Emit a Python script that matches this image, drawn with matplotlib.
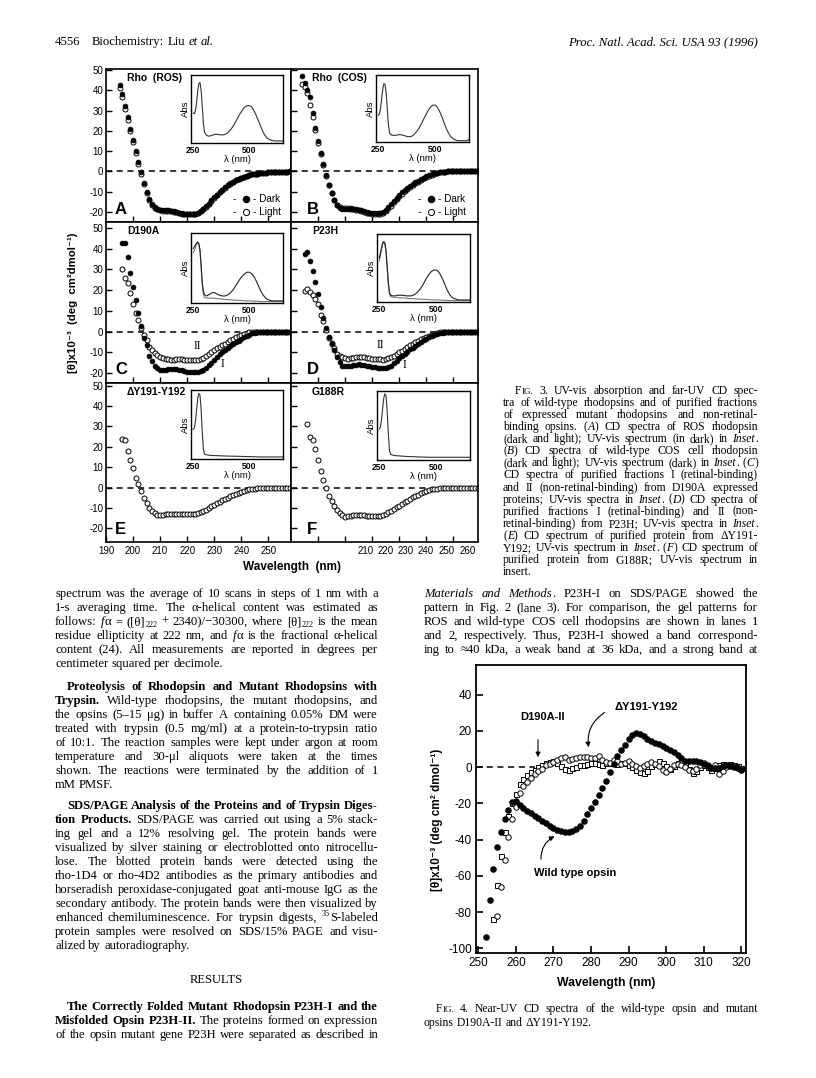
import re
import numpy as np
import matplotlib
matplotlib.use('Agg')
import matplotlib.pyplot as plt
from matplotlib.font_manager import FontProperties

W, H = 816, 1078
SANS = ['Liberation Sans', 'DejaVu Sans']
SERIF = ['Liberation Serif', 'DejaVu Serif']
plt.rcParams['font.family'] = SANS
plt.rcParams['axes.unicode_minus'] = False

# ---------------- Fig. 3 data (far-UV CD, [theta] x 1e-3) ----------------
A_WL = np.arange(195, 259)
A_DARK = [42.5, 38, 32.5, 27, 21, 15.5, 10, 4.5, -0.5, -5.5, -10, -13.5, -16, -17.5, -18.5, -19,
          -19, -19, -19, -19.3, -19.6, -20, -20.3, -20.6, -20.8, -21, -21, -21, -20.8, -20.3, -19.5,
          -18.5, -17.2, -15.8, -14.3, -12.8, -11.4, -10.1, -8.9, -7.8, -6.8, -5.9, -5.1, -4.3, -3.6,
          -3, -2.5, -2.1, -1.7, -1.4, -1.2, -1, -0.9, -0.7, -0.6, -0.5, -0.4, -0.3, -0.3, -0.2, -0.2,
          -0.1, -0.1, 0]
A_LIGHT = [41, 36.5, 31, 25.5, 20, 14.5, 9, 3.8, -1.2, -6, -10.5, -14, -16.3, -17.8, -18.7, -19.2,
           -19.3, -19.3, -19.4, -19.6, -19.9, -20.2, -20.5, -20.8, -21, -21.2, -21.2, -21.1, -20.9,
           -20.4, -19.6, -18.6, -17.3, -15.9, -14.4, -12.9, -11.5, -10.2, -9, -7.9, -6.9, -6, -5.1,
           -4.3, -3.6, -3, -2.5, -2.1, -1.7, -1.4, -1.2, -1, -0.9, -0.7, -0.6, -0.5, -0.4, -0.3, -0.3,
           -0.2, -0.2, -0.1, -0.1, 0]

B_WL = np.arange(194, 260)
B_DARK = [47, 43.5, 40, 36.5, 29, 21.5, 15, 9, 3.5, -1.5, -6.5, -10.5, -14, -16.5, -17.8, -18.5,
          -18.5, -18.3, -18.2, -18.3, -18.5, -18.8, -19.2, -19.6, -20, -20.3, -20.5, -20.6, -20.6,
          -20.4, -19.8, -18.8, -17.5, -16, -14.4, -12.9, -11.5, -10.3, -9.1, -8, -7, -6.2, -5.4,
          -4.6, -3.8, -3, -2.3, -1.8, -1.3, -0.9, -0.6, -0.4, -0.2, -0.1,
          0, 0, 0, 0, 0, 0, 0, 0, 0, 0, 0, 0]
B_LIGHT = [43, 41.5, 38.5, 33, 27, 20.5, 14, 8.5, 3, -2, -6.5, -10.5, -14, -16.3, -17.5, -18,
           -18.2, -18.2, -18.3, -18.5, -18.8, -19.1, -19.5, -19.9, -20.3, -20.6, -20.9, -21, -21,
           -20.8, -20.3, -19.4, -18.2, -16.8, -15.2, -13.7, -12.3, -11, -9.8, -8.7, -7.7, -6.8,
           -5.9, -5, -4.1, -3.3, -2.6, -2, -1.5, -1, -0.7, -0.4, -0.2, -0.1,
           0, 0, 0, 0, 0, 0, 0, 0, 0, 0, 0, 0]

C_WL = np.arange(196, 259)
C_I = [43, 43, 35.8, 28.3, 21.3, 15.4, 8.9, 2.5, -3.2, -6.7, -11.7, -14.1, -16.6, -17.6, -18.5,
       -18.5, -18.3, -18.2, -18.1, -18.1, -18.2, -18.4, -18.7, -19, -19.3, -19.5, -19.6, -19.6,
       -19.4, -19, -18.4, -17.5, -16.3, -15, -13.6, -12.2, -11, -9.9, -8.8, -7.9, -7, -6.1, -5.2,
       -4.3, -3.5, -2.7, -2, -1.4, -0.9, -0.6, -0.4, -0.2, -0.1, 0, 0, 0, 0, 0, 0, 0, 0, 0, 0]
C_II = [30.2, 25.8, 23.4, 18.6, 13.3, 8.9, 5.7, 1.7, -1.5, -4, -7.2, -9, -10.4, -11.5, -12.2, -12.8,
        -13.2, -13.4, -13.5, -13.5, -13.4, -13.4, -13.4, -13.5, -13.6, -13.7, -13.8, -13.8, -13.6,
        -13.2, -12.6, -11.8, -10.9, -9.9, -9, -8.1, -7.3, -6.6, -5.8, -5, -4.2, -3.5, -2.8, -2.1,
        -1.5, -1, -0.6, -0.3, -0.1, 0, 0, 0, 0, 0, 0, 0, 0, 0, 0, 0, 0, 0, 0]

D_WL = np.arange(195, 260)
D_I = [37.5, 38.2, 34.1, 29.3, 23.8, 18, 12.1, 6.4, 1.6, -2.4, -5.6, -8.9, -12.1, -14.5, -16.4,
       -16.8, -16.7, -16.4, -16.1, -15.9, -15.8, -15.9, -16.1, -16.4, -16.7, -17, -17.2, -17.4,
       -17.5, -17.5, -17.4, -17.1, -16.5, -15.2, -14, -12.8, -11.7, -10.6, -9.6, -8.6, -7.7, -6.8,
       -5.9, -5, -4.2, -3.4, -2.7, -2.1, -1.6, -1.2, -0.9, -0.6, -0.4, -0.3, -0.2, -0.1,
       0, 0, 0, 0, 0, 0, 0, 0, 0]
D_II = [19.7, 20.5, 19.2, 17.7, 15.6, 13.1, 8.2, 4.9, 0.8, -3.3, -6.2, -7.9, -10.7, -11.6, -12.3,
        -12.7, -13.1, -12.9, -12.6, -12.4, -12.3, -12.3, -12.4, -12.6, -12.8, -13, -13.2, -13.3,
        -13.4, -13.5, -13.3, -12.9, -12.3, -11.6, -10.8, -10, -9.2, -8.4, -7.5, -6.6, -5.9, -5.1,
        -4.4, -3.7, -3, -2.4, -1.9, -1.4, -1, -0.7, -0.4, -0.2, -0.1,
        0, 0, 0, 0, 0, 0, 0, 0, 0, 0, 0, 0]

E_WL = np.arange(196, 259)
E_VAL = [23.7, 23.2, 18, 13.4, 9.8, 4.9, 1.6, -1.7, -5.2, -7.7, -9.8, -11.5, -12.6, -13.4, -13.6,
         -13.5, -13.1, -12.9, -12.8, -12.8, -12.8, -12.9, -13, -13.1, -13.2, -13.2, -13.2, -13,
         -12.7, -12.2, -11.5, -10.8, -10, -9.2, -8.4, -7.7, -7, -6.3, -5.6, -4.9, -4.2, -3.6, -3,
         -2.5, -2, -1.6, -1.2, -0.9, -0.7, -0.5, -0.4, -0.3, -0.2, -0.2, -0.1, -0.1,
         0, 0, 0, 0, 0, 0, 0]

F_WL = np.arange(196, 260)
F_VAL = [31, 25, 23.3, 19.1, 13.5, 8.1, 3.6, -0.2, -4, -6.8, -9, -10.8, -12.3, -13.6, -14.2, -14.1,
         -13.8, -13.5, -13.3, -13.3, -13.4, -13.6, -13.8, -13.9, -14, -14, -13.9, -13.7, -13.3,
         -12.8, -12.1, -11.3, -10.5, -9.7, -8.9, -8, -7.2, -6.4, -5.6, -4.8, -4.1, -3.4, -2.8, -2.2,
         -1.7, -1.3, -0.9, -0.7, -0.5, -0.4, -0.3, -0.2, -0.2, -0.1, 0, 0, 0, 0, 0, 0, 0, 0, 0, 0]

# UV-vis insets (relative absorbance)
UV_WL = [250, 255, 260, 265, 270, 275, 280, 285, 290, 295, 300, 310, 320, 330, 340, 350, 360, 370,
         380, 390, 400, 410, 420, 430, 440, 450, 460, 470, 480, 490, 500, 510, 520, 530, 540, 550,
         560, 570, 580, 590, 600, 610, 620, 630, 640, 650]
UV_A = [.44, .43, .48, .6, .76, .87, .89, .78, .55, .3, .16, .11, .1, .11, .12, .13, .125, .12, .12,
        .125, .14, .17, .21, .26, .32, .38, .44, .49, .53, .55, .55, .53, .48, .41, .33, .25, .17,
        .11, .07, .05, .04, .03, .03, .03, .03, .03]
UV_B = [.4, .42, .5, .65, .8, .87, .86, .72, .48, .25, .13, .1, .1, .1, .11, .11, .1, .09, .08, .08,
        .09, .12, .16, .21, .27, .34, .41, .47, .52, .55, .55, .52, .46, .38, .29, .2, .13, .08, .05,
        .03, .02, .02, .02, .02, .02, .04]
UV_C_I = [.78, .8, .83, .86, .87, .85, .76, .55, .3, .17, .12, .1, .12, .14, .15, .14, .12, .11, .1,
          .1, .11, .13, .16, .2, .25, .3, .35, .39, .42, .44, .44, .42, .38, .32, .25, .18, .12, .08,
          .05, .04, .03, .03, .03, .03, .03, .03]
UV_C_II = [.72, .75, .8, .84, .86, .84, .74, .52, .27, .13, .08, .07, .07, .07, .07, .065, .06, .06,
           .055, .05, .05, .045, .045, .04, .04, .04, .035, .035, .03, .03, .03, .03, .025, .025,
           .025, .02, .02, .02, .02, .02, .02, .02, .02, .02, .02, .02]
UV_D_I = [.65, .72, .8, .87, .89, .86, .75, .52, .28, .14, .1, .09, .09, .1, .1, .1, .095, .09, .09,
          .09, .1, .12, .15, .19, .24, .3, .36, .41, .45, .47, .47, .45, .4, .33, .25, .17, .11, .07,
          .05, .04, .03, .03, .03, .03, .03, .03]
UV_D_II = [.6, .68, .77, .85, .88, .85, .73, .5, .26, .12, .08, .07, .07, .065, .06, .06, .06, .055,
           .05, .05, .05, .045, .045, .04, .04, .04, .035, .035, .03, .03, .03, .03, .03, .025, .025,
           .025, .02, .02, .02, .02, .02, .02, .02, .02, .02, .02]
UV_E = [.43, .45, .55, .72, .88, .95, .93, .72, .4, .15, .07, .06, .055, .05, .05, .05, .048, .046,
        .045, .044, .043, .042, .041, .04, .04, .039, .038, .037, .036, .035, .035, .034, .033, .032,
        .031, .03, .03, .03, .03, .03, .03, .03, .03, .03, .03, .03]
UV_F = [.45, .48, .58, .75, .9, .96, .93, .7, .38, .14, .08, .07, .065, .06, .06, .055, .055, .05,
        .05, .05, .048, .046, .045, .044, .043, .042, .041, .04, .04, .04, .04, .04, .04, .04, .04,
        .04, .04, .04, .04, .04, .04, .04, .04, .04, .04, .04]

# ---------------- Fig. 4 data (near-UV CD) ----------------
WT_WL = np.arange(252, 321)
WT_VAL = [-93.5, -73, -56, -44, -36, -28.5, -23.5, -19, -18.7, -21, -22.5, -24, -25.5, -26.8, -28,
          -29.5, -31, -32.5, -33.7, -34.7, -35.4, -35.8, -35.8, -35.3, -34.3, -32.3, -29.5, -26,
          -22.5, -19, -15.5, -11.5, -7.5, -2.5, 2, 6, 9.5, 12.5, 15.5, 17.8, 18.9, 18.5, 17.5, 15.8,
          14.6, 13.6, 12.6, 11.6, 10.6, 9.6, 8.6, 7, 5, 3.5, 3.2, 3.3, 3.3, 2.8, 2, 0.8, -0.3, -0.3,
          -0.2, 0.5, 1, 0.8, 0.3, -0.5, -1.3]
D190_WL = np.arange(254, 321)
D190_VAL = [-84, -65, -49, -36, -27, -20, -14.5, -9.5, -6.5, -4.5, -2.8, -1.5, 0, 1.5, 2.3, 2.8, 3.2,
            2.5, 0.5, -1, -1.3, -0.5, 0.2, 1, 1.5, 2, 2.3, 2.4, 2, 1.5, 2.2, 2.5, 2.4, 1.8, 2.2, 2.5,
            1.5, 0, -1.5, -2.5, -3, -2, 0.5, 2, 3.5, 2.5, 0.5, -1, 0.5, 2.5, 3.5, 1.5, -1, -3, -2, 0,
            1.5, 0, -1.5, -0.5, 1, 2, 1.5, 2, 1.5, 0.5, -0.5]
DY_WL = np.arange(255, 321)
DY_VAL = [-82, -66, -51, -38.5, -28.5, -21.8, -14, -10.5, -8.3, -6, -4, -2, -0.9, 1, 2, 3, 4, 5, 5.5,
          4, 4.5, 5, 5.5, 5.5, 5.7, 5.2, 5, 6.4, 4.2, 3, 2.4, 4, 3.5, 2, 2.5, 3.5, 2, 0.5, -0.5, 0.5,
          2, 3, 2, 0.5, -1.5, -2.5, -1, 1, 2, 1.5, 0, -1.5, -2, -1, 1, 2.5, 1.5, -0.5, 1.5, -4, -2,
          0, 1, 0.5, -0.5, -1]

# ---------------- page text ----------------
LEFT_TEXT = [
    (593, 0, True, "spectrum was the average of 10 scans in steps of 1 nm with a"),
    (607, 0, True, "1-s averaging time. The α-helical content was estimated as"),
    (621, 0, True, "follows: {i:f}α = ([θ]{sub:222} + 2340)/−30300, where [θ]{sub:222} is the mean"),
    (635, 0, True, "residue ellipticity at 222 nm, and {i:f}α is the fractional α-helical"),
    (649, 0, True, "content (24). All measurements are reported in degrees per"),
    (663, 0, False, "centimeter squared per decimole."),
    (686, 12, True, "{b:Proteolysis of Rhodopsin and Mutant Rhodopsins with}"),
    (700, 0, True, "{b:Trypsin.} Wild-type rhodopsins, the mutant rhodopsins, and"),
    (714, 0, True, "the opsins (5–15 μg) in buffer A containing 0.05% DM were"),
    (728, 0, True, "treated with trypsin (0.5 mg/ml) at a protein-to-trypsin ratio"),
    (742, 0, True, "of 10:1. The reaction samples were kept under argon at room"),
    (756, 0, True, "temperature and 30-μl aliquots were taken at the times"),
    (770, 0, True, "shown. The reactions were terminated by the addition of 1"),
    (784, 0, False, "mM PMSF."),
    (805, 12, True, "{b:SDS/PAGE Analysis of the Proteins and of Trypsin Diges-}"),
    (819, 0, True, "{b:tion Products.} SDS/PAGE was carried out using a 5% stack-"),
    (833, 0, True, "ing gel and a 12% resolving gel. The protein bands were"),
    (847, 0, True, "visualized by silver staining or electroblotted onto nitrocellu-"),
    (861, 0, True, "lose. The blotted protein bands were detected using the"),
    (875, 0, True, "rho-1D4 or rho-4D2 antibodies as the primary antibodies and"),
    (889, 0, True, "horseradish peroxidase-conjugated goat anti-mouse IgG as the"),
    (903, 0, True, "secondary antibody. The protein bands were then visualized by"),
    (917, 0, True, "enhanced chemiluminescence. For trypsin digests, {sup:35}S-labeled"),
    (931, 0, True, "protein samples were resolved on SDS/15% PAGE and visu-"),
    (945, 0, False, "alized by autoradiography."),
    (1006, 12, True, "{b:The Correctly Folded Mutant Rhodopsin P23H-I and the}"),
    (1020, 0, True, "{b:Misfolded Opsin P23H-II.} The proteins formed on expression"),
    (1034, 0, True, "of the opsin mutant gene P23H were separated as described in"),
]
RIGHT_TEXT = [
    (593, 0, True, "{i:Materials and Methods}. P23H-I on SDS/PAGE showed the"),
    (607, 0, True, "pattern in Fig. 2 (lane 3). For comparison, the gel patterns for"),
    (621, 0, True, "ROS and wild-type COS cell rhodopsins are shown in lanes 1"),
    (635, 0, True, "and 2, respectively. Thus, P23H-I showed a band correspond-"),
    (649, 0, True, "ing to ≈40 kDa, a weak band at 36 kDa, and a strong band at"),
]
CAP3 = [
    (12, True, "F{sc:IG.} 3.  UV-vis absorption and far-UV CD spec-"),
    (0, True, "tra of wild-type rhodopsins and of purified fractions"),
    (0, True, "of expressed mutant rhodopsins and non-retinal-"),
    (0, True, "binding opsins. ({i:A}) CD spectra of ROS rhodopsin"),
    (0, True, "(dark and light); UV-vis spectrum (in dark) in {i:Inset}."),
    (0, True, "({i:B}) CD spectra of wild-type COS cell rhodopsin"),
    (0, True, "(dark and light); UV-vis spectrum (dark) in {i:Inset}. ({i:C})"),
    (0, True, "CD spectra of purified fractions I (retinal-binding)"),
    (0, True, "and II (non-retinal-binding) from D190A expressed"),
    (0, True, "proteins; UV-vis spectra in {i:Inset}. ({i:D}) CD spectra of"),
    (0, True, "purified fractions I (retinal-binding) and II (non-"),
    (0, True, "retinal-binding) from P23H; UV-vis spectra in {i:Inset}."),
    (0, True, "({i:E}) CD spectrum of purified protein from ΔY191-"),
    (0, True, "Y192; UV-vis spectrum in {i:Inset}. ({i:F}) CD spectrum of"),
    (0, True, "purified protein from G188R; UV-vis spectrum in"),
    (0, False, "insert."),
]
CAP4 = [
    (1008, 12, True, "F{sc:IG.} 4.   Near-UV CD spectra of the wild-type opsin and mutant"),
    (1022, 0, False, "opsins D190A-II and ΔY191-Y192."),
]

BODY_FS = 9.1
CAP_FS = 8.4

# ---------------- figure ----------------
fig = plt.figure(figsize=(W / 100, H / 100), dpi=100)
fig.patch.set_facecolor('white')
R = fig.canvas.get_renderer()


def ax_px(x0, y0, x1, y1):
    return fig.add_axes([x0 / W, 1 - y1 / H, (x1 - x0) / W, (y1 - y0) / H])


ov = fig.add_axes([0, 0, 1, 1])
ov.set_xlim(0, W)
ov.set_ylim(H, 0)
ov.axis('off')
ov.set_zorder(20)

TOK = re.compile(r'\{(i|b|sc|sup|sub):([^}]*)\}|([^{]+)')


def parse(line):
    segs = []
    for m in TOK.finditer(line):
        if m.group(1):
            segs.append((m.group(2), m.group(1)))
        else:
            segs.append((m.group(3), 'n'))
    return segs


def words_of(segs):
    words = [[]]
    for txt, st in segs:
        parts = txt.split(' ')
        for k, p in enumerate(parts):
            if k > 0 and words[-1]:
                words.append([])
            if p:
                words[-1].append((p, st))
    return [w for w in words if w]


def style(st, fs):
    d = dict(family=SERIF, size=fs, style='normal', weight='normal')
    dy = 0.0
    if st == 'i':
        d['style'] = 'italic'
    elif st == 'b':
        d['weight'] = 'bold'
    elif st == 'sc':
        d['size'] = fs * 0.78
    elif st == 'sup':
        d['size'] = fs * 0.65
        dy = fs * 0.40
    elif st == 'sub':
        d['size'] = fs * 0.65
        dy = -fs * 0.18
    return d, dy * 100 / 72


def measure(txt, d):
    fp = FontProperties(family=d['family'], size=d['size'], style=d['style'], weight=d['weight'])
    w, h, dsc = R.get_text_width_height_descent(txt, fp, ismath=False)
    return w


def rich(x0, x1, yc, line, fs, justify=True, align='left'):
    words = words_of(parse(line))
    meas = []
    for w in words:
        pcs = []
        for txt, st in w:
            d, dy = style(st, fs)
            if st == 'sc':
                txt = txt.upper()
            pcs.append((txt, d, dy, measure(txt, d)))
        meas.append(pcs)
    widths = [sum(p[3] for p in pcs) for pcs in meas]
    base = style('n', fs)[0]
    sp = measure('x x', base) - measure('xx', base)
    n = len(meas)
    gap = (x1 - x0 - sum(widths)) / (n - 1) if (justify and n > 1) else sp
    tot = sum(widths) + gap * (n - 1)
    x = x0 if align == 'left' else (x0 + x1) / 2 - tot / 2
    yb = yc + fs * 100 / 72 * 0.32
    for pcs in meas:
        for txt, d, dy, pw in pcs:
            ov.text(x, yb - dy, txt, ha='left', va='baseline', fontfamily=d['family'],
                    fontsize=d['size'], fontstyle=d['style'], fontweight=d['weight'])
            x += pw
        x += gap


# header
rich(55, 100, 41, "4556", 9.2, justify=False)
rich(92, 300, 41, "Biochemistry: Liu {i:et al.}", 9.2, justify=False)
ov.text(758, 41 + 9.2 * 100 / 72 * 0.32, "Proc. Natl. Acad. Sci. USA 93 (1996)", ha='right',
        va='baseline', fontfamily=SERIF, fontsize=9.2, fontstyle='italic')

# ---------------- Fig. 3 panels ----------------
PANELS = [
    dict(box=(106, 69, 291, 222), xl=(190, 258.4), yl=(-24.9, 50.5), left=True,
         series=[(A_WL, A_LIGHT, 'open'), (A_WL, A_DARK, 'filled')],
         title='Rho  (ROS)', letter='A', uv=[(UV_A, '#333333')], inset=(191, 75, 283, 143)),
    dict(box=(291, 69, 478, 222), xl=(190, 259.1), yl=(-24.9, 50.5), left=False,
         series=[(B_WL, B_LIGHT, 'open'), (B_WL, B_DARK, 'filled')],
         title='Rho  (COS)', letter='B', uv=[(UV_B, '#333333')], inset=(376, 75, 469, 142)),
    dict(box=(106, 222, 291, 383), xl=(190, 258.4), yl=(-24.8, 52.9), left=True,
         series=[(C_WL, C_I, 'filled'), (C_WL, C_II, 'open')],
         title='D190A', letter='C', uv=[(UV_C_II, '#777777'), (UV_C_I, '#222222')],
         inset=(191, 233, 283, 303)),
    dict(box=(291, 222, 478, 383), xl=(190, 259.1), yl=(-24.8, 52.9), left=False,
         series=[(D_WL, D_I, 'filled'), (D_WL, D_II, 'open')],
         title='P23H', letter='D', uv=[(UV_D_II, '#777777'), (UV_D_I, '#222222')],
         inset=(377, 234, 470, 302)),
    dict(box=(106, 383, 291, 542), xl=(190, 258.4), yl=(-26.7, 51.3), left=True,
         series=[(E_WL, E_VAL, 'open')],
         title='ΔY191-Y192', letter='E', uv=[(UV_E, '#333333')], inset=(191, 390, 283, 459)),
    dict(box=(291, 383, 478, 542), xl=(190, 259.1), yl=(-26.7, 51.3), left=False,
         series=[(F_WL, F_VAL, 'open')],
         title='G188R', letter='F', uv=[(UV_F, '#333333')], inset=(377, 391, 470, 460)),
]
F_LABEL_POS = [210, 217.6, 225, 232.4, 239.9, 247.6, 255.3]
X_LABELS = ['200', '210', '220', '230', '240', '250', '260']

for p in PANELS:
    ax = ax_px(*p['box'])
    ax.set_xlim(*p['xl'])
    ax.set_ylim(*p['yl'])
    ax.axhline(0, color='black', lw=1.1, ls=(0, (4, 3)), zorder=1)
    for wl, vals, kind in p['series']:
        if kind == 'filled':
            ax.plot(wl, vals, 'o', ms=3.5, color='black', mec='black', mew=0.5, ls='none', zorder=3)
        else:
            ax.plot(wl, vals, 'o', ms=3.6, mfc='white', mec='black', mew=0.7, ls='none', zorder=2)
    ax.set_yticks(np.arange(-20, 51, 10))
    ax.tick_params(axis='both', direction='in', length=4, width=1, labelsize=7, pad=2,
                   top=False, right=False)
    ax.tick_params(axis='y', labelleft=p['left'])
    if p['letter'] == 'E':
        ax.set_xticks(np.arange(190, 251, 10))
        ax.tick_params(axis='x', pad=3)
    else:
        ax.set_xticks(np.arange(200, 251, 10))
        ax.set_xticklabels([])
    if p['letter'] == 'F':
        ax.set_xticks(F_LABEL_POS, minor=True)
        ax.set_xticklabels(X_LABELS, minor=True)
        ax.tick_params(axis='x', which='minor', length=0, labelsize=7, pad=3)
        ax.tick_params(axis='x', which='major', pad=3)
    for s in ax.spines.values():
        s.set_linewidth(1.2)
    # inset
    ia = ax_px(*p['inset'])
    ia.set_xlim(240, 650)
    ia.set_ylim(0, 1)
    for vals, col in p['uv']:
        ia.plot(UV_WL, vals, color=col, lw=0.8)
    ia.set_yticks([])
    ia.set_xticks([250, 500])
    ia.set_xticklabels(['250', '500'], fontsize=6.2, fontweight='bold')
    ia.tick_params(axis='x', length=0, pad=2)
    ia.set_xlabel('λ (nm)', fontsize=6.8, labelpad=0)
    ia.set_ylabel('Abs', fontsize=6.8, labelpad=1)
    for s in ia.spines.values():
        s.set_linewidth(1.0)
    # title and letter
    x0, y0, x1, y1 = p['box']
    ov.text(x0 + 21, y0 + 9, p['title'], fontsize=7.5, fontweight='bold', ha='left', va='center')
    ov.text(x0 + 9 if p['left'] else x0 + 16, y1 - 13, p['letter'], fontsize=12,
            fontweight='bold', ha='left', va='center')

# legends in A and B
for bx in (106, 291):
    ov.text(bx + 128, 199, '-', fontsize=7.2, ha='center', va='center')
    ov.plot([bx + 140], [199], 'o', ms=4.4, color='black')
    ov.text(bx + 147, 199, '- Dark', fontsize=7.2, ha='left', va='center')
    ov.text(bx + 128, 212, '-', fontsize=7.2, ha='center', va='center')
    ov.plot([bx + 140], [212], 'o', ms=4.4, mfc='white', mec='black', mew=0.7)
    ov.text(bx + 147, 212, '- Light', fontsize=7.2, ha='left', va='center')

# I / II labels
for x, y, t in [(197, 346, 'II'), (222, 364, 'I'), (380, 345, 'II'), (404, 365, 'I')]:
    ov.text(x, y, t, fontsize=8.5, fontfamily=SERIF, ha='center', va='center')

ov.text(73, 303, '[θ]x10⁻³  (deg  cm²dmol⁻¹)', rotation=90, fontsize=8.2, fontweight='bold',
        ha='center', va='center')
ov.text(292, 567, 'Wavelength  (nm)', fontsize=8.5, fontweight='bold', ha='center', va='center')

# ---------------- Fig. 4 ----------------
ax4 = ax_px(476, 665, 746, 953)
ax4.set_xlim(249.4, 321.2)
ax4.set_ylim(-102.5, 56.4)
ax4.hlines(0, 249.4, 265, colors='black', lw=1.1, linestyles=(0, (4, 3)), zorder=1)
ax4.plot(D190_WL, D190_VAL, 's', ms=3.6, mfc='white', mec='black', mew=0.7, ls='none', zorder=2)
ax4.plot(DY_WL, DY_VAL, 'o', ms=3.9, mfc='white', mec='black', mew=0.7, ls='none', zorder=2)
ax4.plot(WT_WL, WT_VAL, 'o', ms=3.7, color='black', ls='none', zorder=3)
ax4.set_xticks(np.arange(250, 321, 10))
ax4.set_yticks(np.arange(-100, 41, 20))
ax4.tick_params(direction='in', length=5, width=1.2, labelsize=8.5, pad=3)
for s in ax4.spines.values():
    s.set_linewidth(1.3)
ov.text(437, 820, '[θ]x10⁻³ (deg cm² dmol⁻¹)', rotation=90, fontsize=8.5, fontweight='bold',
        ha='center', va='center')
ov.text(606, 983, 'Wavelength (nm)', fontsize=8.8, fontweight='bold', ha='center', va='center')

ov.text(543, 717, 'D190A-II', fontsize=8, fontweight='bold', ha='center', va='center')
ov.annotate('', xy=(538, 760), xytext=(538, 737),
            arrowprops=dict(arrowstyle='-|>', lw=0.8, color='black', mutation_scale=7))
ov.text(646, 707, 'ΔY191-Y192', fontsize=8, fontweight='bold', ha='center', va='center')
ov.annotate('', xy=(589, 750), xytext=(607, 711),
            arrowprops=dict(arrowstyle='-|>', lw=0.8, color='black', mutation_scale=7,
                            connectionstyle='arc3,rad=0.35'))
ov.text(575, 873, 'Wild type opsin', fontsize=8, fontweight='bold', ha='center', va='center')
ov.annotate('', xy=(557, 835), xytext=(541, 862),
            arrowprops=dict(arrowstyle='-|>', lw=0.8, color='black', mutation_scale=7,
                            connectionstyle='arc3,rad=-0.35'))

# ---------------- body text ----------------
for y, ind, just, line in LEFT_TEXT:
    rich(55 + ind, 378, y, line, BODY_FS, justify=just)
rich(55, 378, 979, "RESULTS", 9.0, justify=False, align='center')
for y, ind, just, line in RIGHT_TEXT:
    rich(424 + ind, 758, y, line, BODY_FS, justify=just)
for k, (ind, just, line) in enumerate(CAP3):
    rich(503 + ind, 758, 390 + 12.1 * k, line, CAP_FS, justify=just)
for y, ind, just, line in CAP4:
    rich(424 + ind, 758, y, line, CAP_FS, justify=just)

fig.savefig('out.png', dpi=100, facecolor='white')
